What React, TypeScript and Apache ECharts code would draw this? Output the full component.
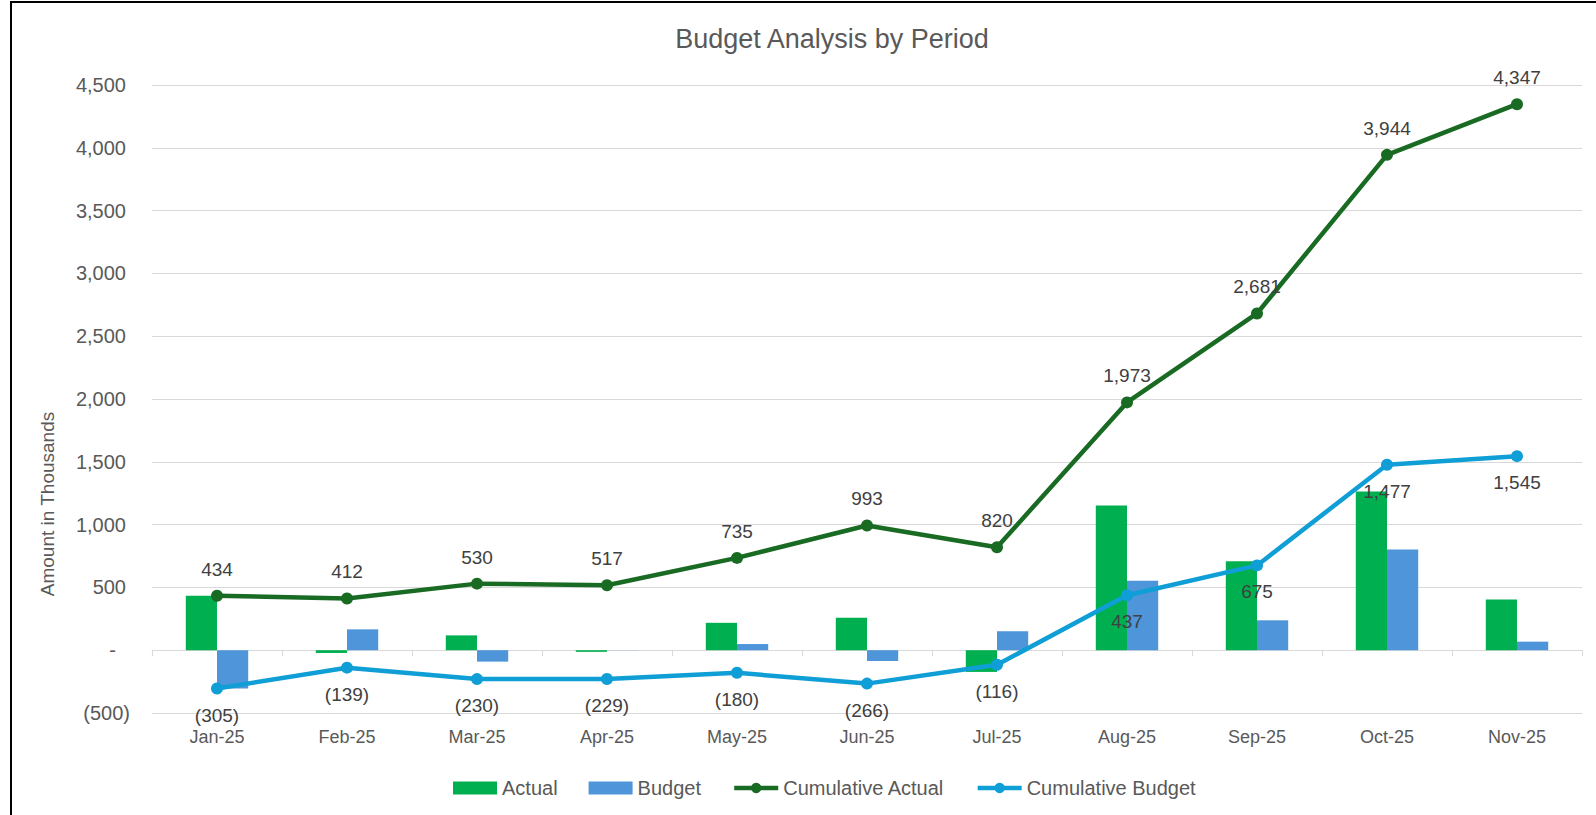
import React, { useEffect, useRef } from "react";
import * as echarts from "echarts";

const categories = ["Jan-25", "Feb-25", "Mar-25", "Apr-25", "May-25", "Jun-25", "Jul-25", "Aug-25", "Sep-25", "Oct-25", "Nov-25"];
const actual = [434, -22, 118, -13, 218, 258, -173, 1153, 708, 1263, 403];
const budget = [-305, 166, -91, 1, 49, -86, 150, 553, 238, 802, 68];
const cumulativeActual = [434, 412, 530, 517, 735, 993, 820, 1973, 2681, 3944, 4347];
const cumulativeBudget = [-305, -139, -230, -229, -180, -266, -116, 437, 675, 1477, 1545];

const seriesNames = ["Actual", "Budget", "Cumulative Actual", "Cumulative Budget"];
const titleText = "Budget Analysis by Period";
const yAxisTitle = "Amount in Thousands";

const FONT = "'Liberation Sans', Arial, sans-serif";
const AXIS_COLOR = "#595959";
const LABEL_COLOR = "#404040";
const GRID_COLOR = "#D9D9D9";
const CUM_ACTUAL_COLOR = "#196B24";
const CUM_BUDGET_COLOR = "#0F9ED5";

function fmt(v: number): string {
  if (v < 0) return "(" + Math.abs(v).toLocaleString("en-US") + ")";
  return v.toLocaleString("en-US");
}

function axisFmt(v: number): string {
  if (v === 0) return "-\u2002\u2009";
  if (v < 0) return "(" + Math.abs(v).toLocaleString("en-US") + ")";
  return v.toLocaleString("en-US") + "\u2009";
}

export default function App() {
  const ref = useRef<HTMLDivElement>(null);

  useEffect(() => {
    if (!ref.current) return;
    const chart = echarts.init(ref.current, undefined, { renderer: "svg" });
    chart.setOption({
      animation: false,
      textStyle: { fontFamily: FONT },
      grid: { left: 152, right: 14, top: 85, bottom: 102 },
      graphic: [
        {
          type: "text",
          x: 832,
          y: 39,
          style: { text: titleText, fontSize: 27, fill: AXIS_COLOR, align: "center", verticalAlign: "middle", fontFamily: FONT },
        },
        {
          type: "text",
          x: 47,
          y: 504,
          rotation: Math.PI / 2,
          style: { text: yAxisTitle, fontSize: 19, fill: AXIS_COLOR, align: "center", verticalAlign: "middle", fontFamily: FONT },
        },
      ],
      legend: {
        left: 448,
        top: 773,
        itemWidth: 44,
        itemHeight: 13,
        itemGap: 31,
        textStyle: { fontSize: 20, color: AXIS_COLOR, fontFamily: FONT },
        data: [
          { name: seriesNames[0], icon: "rect" },
          { name: seriesNames[1], icon: "rect" },
          { name: seriesNames[2], lineStyle: { width: 4.5 } },
          { name: seriesNames[3], lineStyle: { width: 4.5 } },
        ],
      },
      xAxis: [
        {
          type: "category",
          data: categories,
          position: "bottom",
          axisLine: { show: false, onZero: false },
          axisTick: { show: false },
          axisLabel: { fontSize: 18, color: AXIS_COLOR, margin: 15, fontFamily: FONT },
        },
        {
          type: "category",
          data: categories,
          position: "bottom",
          axisLine: { show: true, onZero: true, onZeroAxisIndex: 0, lineStyle: { color: GRID_COLOR, width: 1 } },
          axisTick: { show: true, length: 6, lineStyle: { color: GRID_COLOR } },
          axisLabel: { show: false },
          splitLine: { show: false },
        },
      ],
      yAxis: {
        type: "value",
        min: -500,
        max: 4500,
        interval: 500,
        axisLine: { show: false },
        axisTick: { show: false },
        splitLine: { lineStyle: { color: GRID_COLOR, width: 1 } },
        axisLabel: { formatter: axisFmt, fontSize: 20, color: AXIS_COLOR, margin: 22, fontFamily: FONT },
      },
      series: [
        {
          name: seriesNames[0],
          type: "bar",
          data: actual,
          barGap: "0%",
          barCategoryGap: "52%",
          itemStyle: { color: "#00B050" },
        },
        {
          name: seriesNames[1],
          type: "bar",
          data: budget,
          barGap: "0%",
          barCategoryGap: "52%",
          itemStyle: { color: "#4E95D9" },
        },
        {
          name: seriesNames[2],
          type: "line",
          data: cumulativeActual,
          symbol: "circle",
          symbolSize: 12,
          lineStyle: { color: CUM_ACTUAL_COLOR, width: 4.5 },
          itemStyle: { color: CUM_ACTUAL_COLOR },
          label: { show: true, position: "top", distance: 11, fontSize: 19, color: LABEL_COLOR, formatter: (p: any) => fmt(p.value), fontFamily: FONT },
          z: 3,
        },
        {
          name: seriesNames[3],
          type: "line",
          data: cumulativeBudget,
          symbol: "circle",
          symbolSize: 12,
          lineStyle: { color: CUM_BUDGET_COLOR, width: 4.5 },
          itemStyle: { color: CUM_BUDGET_COLOR },
          label: { show: true, position: "bottom", distance: 11, fontSize: 19, color: LABEL_COLOR, formatter: (p: any) => fmt(p.value), fontFamily: FONT },
          z: 3,
        },
      ],
    });
    return () => chart.dispose();
  }, []);

  return (
    <>
      <div
        style={{
          position: "absolute",
          left: 10,
          top: 1,
          width: 1600,
          height: 830,
          borderLeft: "2px solid #000",
          borderTop: "2px solid #000",
          pointerEvents: "none",
        }}
      />
      <div ref={ref} style={{ position: "absolute", left: 0, top: 0, width: 1596, height: 815 }} />
    </>
  );
}
